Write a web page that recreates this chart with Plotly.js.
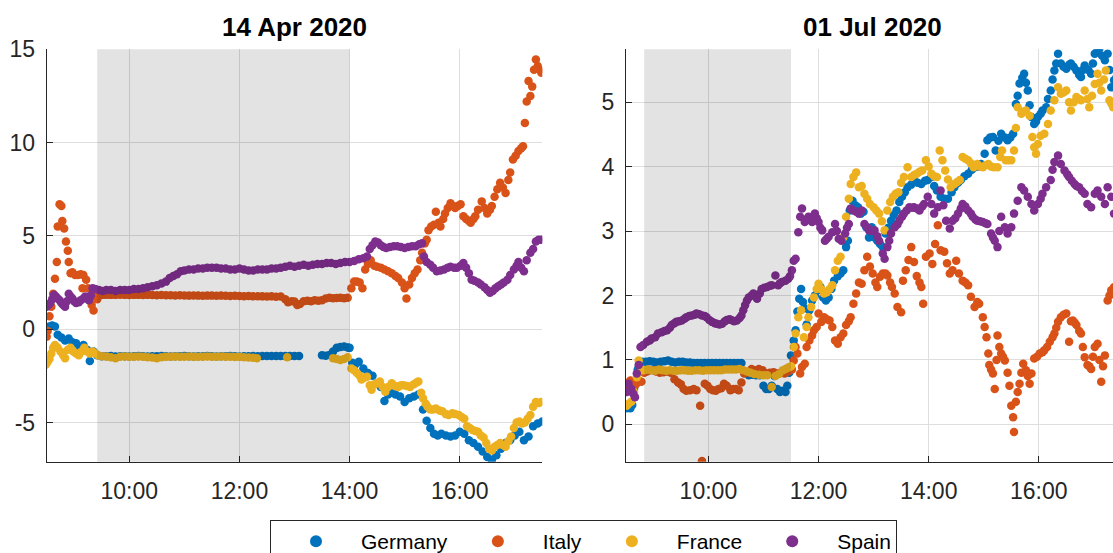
<!DOCTYPE html>
<html><head><meta charset="utf-8">
<script src="https://cdn.plot.ly/plotly-3.0.1.min.js"></script>
<style>html,body{margin:0;padding:0;overflow:hidden;background:#fff}</style>
</head><body>
<div id="chart" style="width:1122px;height:580px"></div>
<script>
// ---------- data ----------
const countries = ["Germany", "Italy", "France", "Spain"];
const colors = ["#0072BD", "#D95319", "#EDB120", "#7E2F8E"];
const days = ["2020-04-14", "2020-07-01"];
const dayTitles = ["14 Apr 2020", "01 Jul 2020"];
const shadeApr = ["09:25", "14:00"];
const shadeJul = ["08:50", "11:30"];
const xRange = ["08:30", "17:30"];
const xTickVals = ["10:00", "12:00", "14:00", "16:00"];
const xTickText = ["10:00", "12:00", "14:00", "16:00"];
const yTicksApr = [-5, 0, 5, 10, 15];
const yTickTextApr = ["-5", "0", "5", "10", "15"];
const yTicksJul = [0, 1, 2, 3, 4, 5];
const yTickTextJul = ["0", "1", "2", "3", "4", "5"];
const yRangeApr = [-7.1, 15];
const yRangeJul = [-0.58, 5.82];

const aprGermany = [["08:30",-0.1],["08:33",0.15],["08:36",0.2],["08:39",0.15],["08:42",-0.3],["08:46",-0.45],["08:50",-0.6],["08:54",-0.5],["08:58",-0.7],["09:02",-0.75],["09:06",-1.0],["09:10",-0.85],["09:14",-1.1],["09:17",-1.7],["09:21",-1.2],["09:25",-1.4],
["09:30",-1.45],["09:35",-1.45],["09:40",-1.44],["09:45",-1.46],["09:50",-1.45],["09:55",-1.45],["10:00",-1.46],["10:05",-1.45],["10:10",-1.44],["10:15",-1.45],["10:20",-1.46],["10:25",-1.45],["10:30",-1.45],["10:35",-1.44],["10:40",-1.45],["10:45",-1.46],["10:50",-1.45],["10:55",-1.45],["11:00",-1.44],["11:05",-1.45],["11:10",-1.46],["11:15",-1.45],["11:20",-1.45],["11:25",-1.44],["11:30",-1.45],["11:35",-1.46],["11:40",-1.45],["11:45",-1.45],["11:50",-1.44],["11:55",-1.45],["12:00",-1.46],["12:05",-1.45],["12:10",-1.45],["12:15",-1.44],["12:20",-1.45],["12:25",-1.44],["12:30",-1.43],["12:35",-1.44],["12:40",-1.43],["12:45",-1.44],["12:50",-1.43],["12:55",-1.44],["13:00",-1.43],["13:05",-1.44],
["13:30",-1.4],["13:34",-1.42],["13:38",-1.38],["13:42",-1.2],["13:46",-1.0],["13:50",-0.95],["13:54",-0.93],["13:58",-0.98],
["14:00",-1.0],["14:03",-1.8],["14:06",-1.9],["14:10",-1.75],["14:15",-2.1],["14:20",-2.35],["14:25",-2.5],["14:30",-2.9],["14:34",-3.1],["14:38",-3.85],["14:42",-3.5],["14:46",-3.4],["14:50",-3.5],["14:55",-3.6],["15:00",-3.9],["15:05",-3.7],["15:10",-3.6],["15:15",-3.5],["15:20",-4.3],["15:24",-4.9],["15:28",-5.3],["15:32",-5.6],["15:36",-5.7],["15:40",-5.6],["15:45",-5.7],["15:50",-5.75],["15:55",-5.7],["16:00",-5.5],["16:05",-5.6],["16:10",-5.95],["16:15",-6.1],["16:20",-6.3],["16:25",-6.55],["16:30",-6.85],["16:35",-7.0],["16:40",-6.75],["16:45",-6.4],["16:50",-6.1],["16:55",-5.95],["17:00",-5.7],["17:05",-5.5],["17:10",-5.95],["17:15",-5.75],["17:20",-5.2],["17:25",-5.05],["17:30",-4.95]];

const aprItaly = [["08:30",-0.4],["08:31",-0.1],["08:33",0.7],["08:35",1.2],["08:37",1.9],["08:39",2.7],["08:41",3.6],["08:42",5.5],["08:44",6.7],["08:46",6.6],["08:47",5.8],["08:49",5.4],["08:51",4.7],["08:53",4.2],["08:54",3.6],["08:56",3.0],["08:58",3.05],["09:01",2.9],["09:04",2.9],["09:07",2.95],["09:09",2.2],["09:10",2.9],["09:13",2.65],["09:15",2.2],["09:19",1.3],["09:21",1.0],["09:23",1.75],["09:25",1.6],
["09:28",1.82],["09:32",1.84],["09:36",1.85],["09:40",1.84],["09:45",1.84],["09:50",1.85],["09:55",1.84],["10:00",1.83],["10:05",1.84],["10:10",1.84],["10:15",1.83],["10:20",1.84],["10:25",1.83],["10:30",1.82],["10:35",1.83],["10:40",1.82],["10:45",1.82],["10:50",1.81],["10:55",1.82],["11:00",1.81],["11:05",1.8],["11:10",1.81],["11:15",1.8],["11:20",1.79],["11:25",1.8],["11:30",1.8],["11:35",1.79],["11:40",1.8],["11:45",1.79],["11:50",1.78],["11:55",1.79],["12:00",1.78],["12:05",1.77],["12:10",1.78],["12:15",1.76],["12:20",1.77],["12:25",1.76],["12:30",1.75],["12:35",1.76],["12:40",1.74],["12:45",1.75],["12:50",1.6],["12:53",1.45],["12:57",1.5],["13:00",1.48],["13:03",1.3],["13:06",1.35],["13:10",1.5],["13:14",1.52],["13:18",1.5],["13:22",1.55],["13:26",1.52],["13:30",1.55],["13:34",1.65],["13:38",1.68],["13:42",1.66],["13:46",1.67],["13:50",1.68],["13:54",1.66],["13:58",1.68],
["14:02",2.2],["14:05",2.55],["14:08",2.55],["14:11",2.5],["14:14",2.2],["14:17",3.2],["14:20",3.5],["14:23",3.7],["14:27",3.4],["14:30",3.35],["14:34",3.3],["14:38",3.2],["14:42",3.1],["14:46",3.0],["14:50",2.85],["14:53",2.75],["14:57",2.5],["15:00",2.2],["15:02",1.65],["15:05",2.4],["15:08",2.75],["15:11",3.0],["15:14",3.2],["15:17",3.7],["15:19",4.1],["15:22",4.6],["15:24",4.8],["15:26",5.3],["15:29",5.5],["15:32",5.6],["15:34",6.3],["15:37",5.7],["15:39",5.5],["15:42",5.9],["15:44",6.2],["15:47",6.5],["15:50",6.75],["15:53",6.6],["15:55",6.5],["15:58",6.6],["16:01",6.7],["16:04",6.05],["16:07",5.9],["16:10",5.8],["16:12",5.7],["16:15",5.9],["16:17",6.05],["16:20",6.4],["16:24",6.85],["16:27",6.5],["16:30",6.2],["16:33",6.4],["16:35",6.6],["16:38",7.1],["16:41",7.5],["16:44",7.85],["16:47",7.6],["16:50",7.3],["16:53",8.0],["16:55",8.4],["16:58",9.1],["17:01",9.3],["17:04",9.55],["17:07",9.7],["17:09",9.8],["17:11",11.05],["17:13",12.2],["17:15",13.3],["17:17",12.5],["17:19",13.0],["17:21",13.9],["17:23",14.45],["17:25",14.1],["17:27",13.9],["17:29",13.75]];

const aprFrance = [["08:29",-1.9],["08:31",-1.75],["08:33",-1.6],["08:35",-1.3],["08:37",-1.0],["08:39",-0.85],["08:42",-1.0],["08:45",-1.2],["08:48",-1.4],["08:50",-1.55],["08:53",-1.1],["08:56",-1.0],["08:59",-1.2],["09:02",-1.3],["09:05",-1.4],["09:08",-1.2],["09:11",-1.0],["09:14",-1.2],["09:17",-1.3],["09:20",-1.2],["09:23",-1.3],["09:26",-1.4],
["09:30",-1.45],["09:35",-1.46],["09:40",-1.5],["09:45",-1.55],["09:50",-1.47],["09:55",-1.46],["10:00",-1.48],["10:05",-1.47],["10:10",-1.46],["10:15",-1.48],["10:20",-1.5],["10:25",-1.52],["10:30",-1.55],["10:35",-1.5],["10:40",-1.48],["10:45",-1.47],["10:50",-1.46],["10:55",-1.48],["11:00",-1.47],["11:05",-1.46],["11:10",-1.47],["11:15",-1.48],["11:20",-1.47],["11:25",-1.46],["11:30",-1.48],["11:35",-1.47],["11:40",-1.46],["11:45",-1.47],["11:50",-1.48],["11:55",-1.49],["12:00",-1.48],["12:05",-1.5],["12:10",-1.52],["12:15",-1.53],["12:19",-1.55],
["12:52",-1.5],
["13:42",-1.55],["13:46",-1.6],["13:50",-1.65],["13:54",-1.6],["13:58",-1.5],["14:02",-2.1],["14:05",-2.2],["14:08",-2.35],["14:11",-2.5],["14:13",-2.7],["14:16",-2.6],["14:19",-2.55],["14:22",-3.0],["14:24",-3.25],["14:27",-2.95],["14:30",-2.9],["14:33",-2.8],["14:36",-3.1],["14:39",-3.35],["14:42",-3.1],["14:46",-2.9],["14:50",-3.05],["14:53",-3.1],["14:56",-3.0],["14:59",-3.0],["15:03",-3.05],["15:06",-3.1],["15:10",-2.95],["15:13",-2.85],["15:15",-2.8],["15:18",-3.4],["15:20",-3.7],["15:23",-4.0],["15:25",-4.15],["15:28",-4.3],["15:31",-4.3],["15:34",-4.25],["15:38",-4.35],["15:41",-4.4],["15:45",-4.55],["15:48",-4.6],["15:52",-4.5],["15:55",-4.55],["15:59",-4.6],["16:02",-4.7],["16:05",-4.8],["16:08",-5.2],["16:11",-5.3],["16:14",-5.4],["16:17",-5.45],["16:20",-5.5],["16:23",-5.7],["16:26",-5.8],["16:29",-6.1],["16:32",-6.4],["16:35",-6.5],["16:38",-6.3],["16:41",-6.2],["16:44",-6.1],["16:47",-6.2],["16:50",-6.3],["16:53",-6.0],["16:56",-5.75],["16:59",-5.3],["17:02",-5.0],["17:05",-4.95],["17:08",-5.05],["17:11",-5.0],["17:14",-4.8],["17:17",-4.6],["17:20",-4.15],["17:23",-3.9],["17:26",-3.95],["17:29",-3.9]];

const aprSpain = [["08:30",1.2],["08:32",1.3],["08:34",1.4],["08:36",1.6],["08:38",1.85],["08:40",1.75],["08:42",1.65],["08:44",1.55],["08:46",1.4],["08:48",1.3],["08:50",1.2],["08:52",1.5],["08:54",1.9],["08:56",1.75],["08:58",1.65],["09:00",1.5],["09:02",1.4],["09:05",1.45],["09:07",1.55],["09:10",1.65],["09:12",1.75],["09:14",1.65],["09:16",1.55],["09:18",1.8],["09:20",2.2],["09:23",2.15],
["09:27",2.1],["09:31",2.05],["09:35",2.1],["09:40",2.1],["09:45",2.05],["09:50",2.1],["09:55",2.1],["10:00",2.1],["10:05",2.15],["10:10",2.15],["10:15",2.2],["10:20",2.25],["10:25",2.3],["10:30",2.35],["10:35",2.45],["10:40",2.55],["10:44",2.75],["10:48",2.85],["10:52",2.95],["10:56",3.1],["11:00",3.15],["11:05",3.2],["11:10",3.2],["11:15",3.25],["11:20",3.25],["11:25",3.3],["11:30",3.3],["11:35",3.3],["11:40",3.25],["11:45",3.25],["11:50",3.2],["11:55",3.2],["12:00",3.25],["12:05",3.2],["12:10",3.15],["12:15",3.15],["12:20",3.2],["12:25",3.2],["12:30",3.2],["12:35",3.25],["12:40",3.25],["12:45",3.3],["12:50",3.35],["12:55",3.4],["13:00",3.35],["13:05",3.4],["13:10",3.45],["13:15",3.4],["13:20",3.45],["13:25",3.5],["13:30",3.5],["13:35",3.55],["13:40",3.55],["13:45",3.5],["13:50",3.55],["13:55",3.6],["14:00",3.6],["14:05",3.65],["14:10",3.75],["14:15",3.8],["14:19",3.9],["14:22",4.3],["14:25",4.5],["14:28",4.7],["14:31",4.65],["14:34",4.5],["14:37",4.4],["14:40",4.35],["14:44",4.4],["14:48",4.45],["14:52",4.45],["14:56",4.4],["15:00",4.35],["15:04",4.4],["15:08",4.45],["15:12",4.45],["15:16",4.55],["15:19",4.6],["15:21",3.9],["15:24",3.6],["15:28",3.45],["15:31",3.3],["15:35",3.1],["15:39",3.15],["15:43",3.2],["15:47",3.3],["15:50",3.35],["15:54",3.3],["15:57",3.3],["16:01",3.4],["16:04",3.55],["16:07",3.3],["16:10",3.0],["16:13",2.65],["16:16",2.6],["16:20",2.5],["16:23",2.4],["16:27",2.25],["16:30",2.1],["16:33",1.95],["16:36",2.05],["16:39",2.2],["16:42",2.3],["16:45",2.4],["16:48",2.5],["16:52",2.65],["16:55",2.9],["16:59",3.2],["17:02",3.4],["17:04",3.6],["17:07",3.3],["17:10",3.1],["17:13",3.7],["17:17",4.1],["17:20",4.3],["17:23",4.7],["17:26",4.8],["17:29",4.8]];

const julGermany = [["08:31",0.25],["08:33",0.28],["08:35",0.25],["08:37",0.3],["08:39",0.55],["08:41",0.63],["08:43",0.85],["08:45",0.95],["08:48",0.97],["08:52",0.97],["08:56",0.98],["09:00",0.97],["09:04",0.96],["09:08",0.97],["09:12",0.98],["09:16",0.99],["09:20",0.97],["09:24",0.96],["09:28",0.97],["09:32",0.97],["09:36",0.96],["09:40",0.96],["09:44",0.95],["09:48",0.95],["09:52",0.95],["09:56",0.95],["10:00",0.95],["10:04",0.95],["10:08",0.95],["10:12",0.95],["10:16",0.95],["10:20",0.95],["10:24",0.95],["10:28",0.95],["10:32",0.95],["10:36",0.95],["10:40",0.8],["10:44",0.76],["10:48",0.77],["10:52",0.76],["10:56",0.76],["11:00",0.6],["11:03",0.55],["11:06",0.55],["11:09",0.6],["11:12",0.75],["11:15",0.55],["11:18",0.5],["11:21",0.52],["11:24",0.5],["11:26",0.6],["11:28",0.8],["11:30",1.07],["11:33",1.3],["11:35",1.46],["11:37",1.75],["11:39",1.95],["11:41",2.1],["11:43",1.9],["11:45",1.8],["11:47",1.55],["11:50",1.77],["11:53",1.92],["11:56",2.0],["11:59",2.08],["12:02",2.13],["12:05",1.97],["12:08",1.92],["12:11",1.97],["12:14",2.1],["12:17",2.23],["12:21",2.3],["12:24",2.34],["12:27",2.39],["12:30",2.75],["12:32",2.85],["12:34",3.32],["12:37",3.47],["12:40",3.4],["12:43",3.37],["12:46",3.27],["12:49",3.3],["12:52",3.06],["12:55",2.9],["12:58",3.06],["13:01",2.9],["13:04",2.85],["13:07",2.8],["13:10",2.75],["13:13",2.96],["13:16",3.05],["13:19",3.16],["13:22",3.25],["13:25",3.32],["13:28",3.45],["13:31",3.53],["13:34",3.6],["13:37",3.68],["13:41",3.72],["13:44",3.79],["13:48",3.75],["13:52",3.73],["13:56",3.78],["13:59",3.79],["14:03",3.84],["14:06",3.7],["14:09",3.63],["14:13",3.53],["14:17",3.5],["14:21",3.5],["14:25",3.6],["14:28",3.68],["14:32",3.75],["14:35",3.79],["14:39",3.85],["14:43",3.89],["14:47",3.95],["14:50",3.99],["14:54",4.0],["14:57",4.04],["15:01",4.2],["15:04",4.41],["15:07",4.45],["15:10",4.46],["15:13",4.25],["15:16",4.4],["15:19",4.51],["15:23",4.45],["15:26",4.41],["15:29",4.45],["15:32",4.51],["15:35",4.97],["15:37",5.1],["15:39",5.29],["15:42",5.38],["15:44",5.44],["15:46",5.3],["15:48",5.18],["15:50",4.95],["15:52",4.77],["15:55",4.66],["15:57",4.7],["15:59",4.77],["16:02",4.82],["16:04",4.87],["16:08",4.92],["16:10",5.05],["16:13",5.18],["16:15",5.35],["16:17",5.49],["16:19",5.6],["16:21",5.75],["16:24",5.6],["16:27",5.55],["16:30",5.52],["16:33",5.58],["16:35",5.6],["16:38",5.55],["16:41",5.49],["16:44",5.42],["16:46",5.39],["16:48",5.5],["16:50",5.57],["16:54",5.5],["16:57",5.44],["16:59",5.6],["17:01",5.75],["17:04",5.8],["17:06",5.83],["17:09",5.72],["17:12",5.65],["17:15",5.75],["17:17",5.5],["17:19",5.23],["17:22",5.34],["17:25",5.4],["17:28",5.5]];

const julItaly = [["08:31",0.58],["08:33",0.65],["08:35",0.68],["08:38",0.58],["08:41",0.62],["08:44",0.68],["08:47",0.66],["08:50",0.8],["08:53",0.82],["08:56",0.84],["09:00",0.84],["09:03",0.82],["09:07",0.8],["09:11",0.81],["09:15",0.82],["09:19",0.8],["09:23",0.7],["09:27",0.65],["09:30",0.62],["09:33",0.55],["09:36",0.52],["09:40",0.53],["09:44",0.55],["09:47",0.53],["09:51",0.29],["09:53",-0.57],["09:56",0.63],["09:59",0.6],["10:02",0.55],["10:05",0.53],["10:08",0.52],["10:11",0.55],["10:14",0.56],["10:17",0.63],["10:20",0.6],["10:24",0.53],["10:27",0.55],["10:30",0.55],["10:33",0.53],["10:36",0.65],["10:39",0.79],["10:43",0.81],["10:47",0.86],["10:51",0.84],["10:55",0.86],["10:59",0.84],["11:03",0.79],["11:07",0.8],["11:11",0.81],["11:15",0.79],["11:19",0.8],["11:23",0.79],["11:27",0.82],["11:31",0.85],["11:33",0.99],["11:35",1.2],["11:37",1.1],["11:40",0.79],["11:42",0.89],["11:45",0.94],["11:47",1.2],["11:50",1.3],["11:53",1.38],["11:55",1.46],["11:58",1.51],["12:00",1.72],["12:03",1.59],["12:06",1.66],["12:09",1.63],["12:12",1.61],["12:15",1.51],["12:18",1.3],["12:21",1.25],["12:24",1.35],["12:27",1.41],["12:30",1.54],["12:33",1.6],["12:35",1.66],["12:38",1.87],["12:41",2.03],["12:44",2.2],["12:47",2.18],["12:50",2.39],["12:53",2.6],["12:56",2.45],["12:59",2.34],["13:02",2.2],["13:04",2.13],["13:07",2.29],["13:10",2.34],["13:13",2.34],["13:15",2.31],["13:18",2.2],["13:20",2.13],["13:23",2.03],["13:26",1.82],["13:30",1.74],["13:32",2.23],["13:35",2.39],["13:38",2.55],["13:41",2.75],["13:44",2.52],["13:47",2.3],["13:50",2.2],["13:52",2.13],["13:54",1.87],["13:57",2.6],["14:01",2.65],["14:04",2.49],["14:07",2.8],["14:10",3.09],["14:13",2.7],["14:17",2.68],["14:20",2.5],["14:23",2.34],["14:26",2.39],["14:30",2.54],["14:33",2.34],["14:37",2.23],["14:40",2.2],["14:43",2.16],["14:46",1.98],["14:50",1.82],["14:53",1.9],["14:55",1.87],["14:59",1.66],["15:01",1.51],["15:03",1.35],["15:05",1.1],["15:06",0.92],["15:08",0.85],["15:10",0.79],["15:12",0.55],["15:14",1.0],["15:15",1.38],["15:17",1.2],["15:19",1.1],["15:21",1.05],["15:23",0.99],["15:26",0.8],["15:28",0.6],["15:30",0.29],["15:32",0.11],["15:33",-0.12],["15:35",0.35],["15:37",0.5],["15:39",0.63],["15:41",0.8],["15:43",0.94],["15:46",0.84],["15:48",0.75],["15:50",0.63],["15:52",0.79],["15:55",1.02],["15:58",1.05],["16:01",1.1],["16:04",1.12],["16:06",1.15],["16:09",1.2],["16:12",1.28],["16:15",1.35],["16:17",1.41],["16:19",1.5],["16:21",1.59],["16:24",1.66],["16:27",1.7],["16:30",1.72],["16:33",1.28],["16:35",1.6],["16:37",1.61],["16:39",1.58],["16:41",1.54],["16:44",1.45],["16:46",1.41],["16:48",1.2],["16:50",1.04],["16:53",0.92],["16:55",0.9],["16:57",0.86],["16:59",1.05],["17:01",1.2],["17:04",1.25],["17:06",1.0],["17:08",0.66],["17:10",0.9],["17:12",1.07],["17:15",1.92],["17:17",2.0],["17:19",2.08],["17:22",2.13],["17:25",2.15]];

const julFrance = [["08:31",0.29],["08:33",0.32],["08:36",0.35],["08:39",0.5],["08:42",0.73],["08:44",0.99],["08:47",0.84],["08:50",0.84],["08:54",0.85],["08:58",0.84],["09:02",0.83],["09:06",0.85],["09:10",0.84],["09:14",0.83],["09:18",0.84],["09:22",0.83],["09:26",0.83],["09:30",0.84],["09:34",0.84],["09:38",0.83],["09:42",0.83],["09:46",0.84],["09:50",0.84],["09:54",0.83],["09:58",0.84],["10:02",0.84],["10:06",0.84],["10:10",0.84],["10:14",0.84],["10:18",0.85],["10:22",0.85],["10:26",0.85],["10:30",0.85],["10:34",0.86],["10:38",0.84],["10:42",0.82],["10:46",0.8],["10:50",0.78],["10:55",0.77],["11:00",0.76],["11:04",0.76],["11:09",0.58],["11:13",0.75],["11:17",0.78],["11:21",0.84],["11:24",0.86],["11:27",0.88],["11:30",0.9],["11:33",1.2],["11:35",1.41],["11:38",1.66],["11:41",1.77],["11:44",1.35],["11:47",1.51],["11:49",1.66],["11:52",1.82],["11:55",1.97],["11:58",2.1],["12:00",2.18],["12:03",2.1],["12:06",2.03],["12:09",2.05],["12:12",2.1],["12:15",2.16],["12:18",2.39],["12:21",2.54],["12:24",2.6],["12:27",2.9],["12:30",3.22],["12:33",3.5],["12:35",3.73],["12:38",3.84],["12:41",3.91],["12:44",3.68],["12:47",3.7],["12:50",3.58],["12:53",3.5],["12:56",3.42],["13:00",3.37],["13:03",3.32],["13:06",3.27],["13:09",3.15],["13:12",3.01],["13:15",3.32],["13:18",3.45],["13:21",3.53],["13:24",3.58],["13:27",3.6],["13:30",3.75],["13:33",3.84],["13:37",3.99],["13:41",3.84],["13:44",3.87],["13:47",3.89],["13:50",3.92],["13:53",3.94],["13:57",4.1],["14:00",4.0],["14:03",3.89],["14:06",3.85],["14:09",3.84],["14:12",4.25],["14:15",4.1],["14:18",3.94],["14:21",3.8],["14:24",3.68],["14:28",3.73],["14:31",3.76],["14:34",3.79],["14:37",4.15],["14:40",4.12],["14:43",4.1],["14:46",4.05],["14:49",3.99],["14:53",4.04],["14:56",4.0],["14:59",3.99],["15:02",4.02],["15:05",4.04],["15:08",4.0],["15:11",3.99],["15:15",3.99],["15:18",4.15],["15:20",4.25],["15:24",4.1],["15:27",4.1],["15:30",4.1],["15:33",4.25],["15:35",4.6],["15:37",4.92],["15:41",4.82],["15:43",4.85],["15:46",4.87],["15:50",4.79],["15:53",4.46],["15:55",4.3],["15:57",4.2],["15:59",4.35],["16:02",4.48],["16:06",4.51],["16:10",4.66],["16:13",4.87],["16:17",5.03],["16:21",5.23],["16:24",5.13],["16:27",5.15],["16:30",5.18],["16:33",5.0],["16:35",4.87],["16:38",5.0],["16:41",5.08],["16:44",5.05],["16:46",5.03],["16:50",5.18],["16:53",5.05],["16:55",4.92],["16:58",5.1],["17:01",5.28],["17:04",5.44],["17:06",5.3],["17:08",5.18],["17:11",5.35],["17:13",5.49],["17:17",5.03],["17:19",4.98],["17:21",4.92],["17:25",5.0]];

const julSpain = [["08:31",0.5],["08:33",0.63],["08:36",0.55],["08:38",0.48],["08:40",0.42],["08:42",0.79],["08:44",0.92],["08:46",1.2],["08:49",1.23],["08:53",1.28],["08:56",1.3],["08:58",1.33],["09:02",1.35],["09:05",1.41],["09:09",1.43],["09:12",1.45],["09:15",1.46],["09:18",1.5],["09:20",1.54],["09:23",1.57],["09:25",1.59],["09:28",1.6],["09:31",1.61],["09:34",1.64],["09:36",1.66],["09:39",1.68],["09:42",1.69],["09:45",1.7],["09:47",1.72],["09:50",1.71],["09:53",1.69],["09:56",1.68],["09:58",1.66],["10:01",1.62],["10:04",1.59],["10:07",1.57],["10:09",1.56],["10:12",1.55],["10:15",1.56],["10:18",1.6],["10:20",1.62],["10:23",1.63],["10:25",1.62],["10:28",1.6],["10:31",1.61],["10:34",1.65],["10:36",1.69],["10:38",1.77],["10:40",1.85],["10:42",1.92],["10:44",1.97],["10:47",2.0],["10:49",2.03],["10:51",1.99],["10:53",1.95],["10:56",2.03],["10:58",2.1],["11:01",2.12],["11:04",2.13],["11:07",2.15],["11:09",2.16],["11:13",2.31],["11:16",2.16],["11:18",2.19],["11:20",2.21],["11:24",2.23],["11:27",2.26],["11:29",2.3],["11:31",2.39],["11:33",2.54],["11:35",2.57],["11:38",2.98],["11:40",3.22],["11:42",3.35],["11:45",3.14],["11:47",3.18],["11:49",3.22],["11:51",3.18],["11:53",3.14],["11:56",3.27],["11:58",3.2],["12:00",3.14],["12:02",3.05],["12:04",3.01],["12:07",2.85],["12:09",2.88],["12:11",2.91],["12:15",2.98],["12:18",3.11],["12:20",3.0],["12:22",2.88],["12:25",2.85],["12:29",2.96],["12:31",3.05],["12:33",3.11],["12:35",3.35],["12:38",3.32],["12:41",3.3],["12:44",3.27],["12:47",3.32],["12:50",3.11],["12:53",3.06],["12:55",3.01],["12:58",3.0],["13:01",3.01],["13:04",2.92],["13:06",2.85],["13:10",2.65],["13:12",2.57],["13:15",2.75],["13:17",2.85],["13:19",2.96],["13:23",3.06],["13:26",3.1],["13:28",3.16],["13:31",3.22],["13:33",3.27],["13:36",3.32],["13:39",3.37],["13:42",3.36],["13:44",3.37],["13:47",3.35],["13:50",3.32],["13:53",3.38],["13:55",3.42],["13:59",3.53],["14:03",3.42],["14:06",3.27],["14:10",3.37],["14:13",3.63],["14:16",3.4],["14:19",3.16],["14:23",3.04],["14:26",3.16],["14:29",3.2],["14:32",3.27],["14:35",3.35],["14:37",3.42],["14:40",3.38],["14:43",3.32],["14:46",3.27],["14:48",3.22],["14:51",3.18],["14:53",3.16],["14:56",3.15],["14:59",3.14],["15:02",3.12],["15:04",3.11],["15:08",2.96],["15:10",2.9],["15:12",2.85],["15:15",2.75],["15:17",3.0],["15:19",3.22],["15:23",3.06],["15:26",2.96],["15:30",3.06],["15:33",3.27],["15:37",3.47],["15:41",3.68],["15:44",3.63],["15:48",3.53],["15:52",3.42],["15:55",3.32],["15:59",3.42],["16:02",3.5],["16:04",3.58],["16:08",3.68],["16:13",3.79],["16:15",3.95],["16:17",4.07],["16:21",4.17],["16:24",4.04],["16:28",3.94],["16:31",3.88],["16:33",3.84],["16:36",3.78],["16:39",3.73],["16:41",3.7],["16:44",3.68],["16:47",3.62],["16:50",3.58],["16:53",3.42],["16:57",3.37],["17:01",3.58],["17:04",3.63],["17:08",3.53],["17:12",3.42],["17:15",3.68],["17:19",3.53],["17:22",3.27],["17:26",3.35]];

// ---------- build ----------
const W = 1122, H = 580;
const seriesByDay = [[aprGermany, aprItaly, aprFrance, aprSpain], [julGermany, julItaly, julFrance, julSpain]];
const traces = [];
seriesByDay.forEach((set, d) => {
  set.forEach((pts, i) => {
    traces.push({
      type: 'scatter', mode: 'markers',
      x: pts.map(p => days[d] + ' ' + p[0]),
      y: pts.map(p => p[1]),
      xaxis: d === 0 ? 'x' : 'x2', yaxis: d === 0 ? 'y' : 'y2',
      name: countries[i], legendgroup: countries[i], showlegend: d === 0,
      marker: {color: colors[i], size: 8.5, line: {width: 0}},
      hoverinfo: 'skip'
    });
  });
});

const tickFont = {family: 'Liberation Sans, Arial, sans-serif', size: 23, color: '#262626'};
function xa(d, dom) {
  return {
    domain: dom, type: 'date', anchor: d === 0 ? 'y' : 'y2',
    range: xRange.map(t => days[d] + ' ' + t),
    tickvals: xTickVals.map(t => days[d] + ' ' + t), ticktext: xTickText,
    ticks: 'inside', ticklen: 6, tickcolor: '#262626', tickwidth: 1,
    showline: true, linecolor: '#262626', linewidth: 1, mirror: false,
    showgrid: true, gridcolor: '#DEDEDE', gridwidth: 1, zeroline: false,
    tickfont: tickFont, ticklabelstandoff: 9, automargin: false, fixedrange: true
  };
}
function ya(d, dom, range, vals, text) {
  return {
    domain: dom, anchor: d === 0 ? 'x' : 'x2', range: range,
    tickvals: vals, ticktext: text,
    ticks: 'inside', ticklen: 6, tickcolor: '#262626', tickwidth: 1,
    showline: true, linecolor: '#262626', linewidth: 1, mirror: false,
    showgrid: true, gridcolor: '#DEDEDE', gridwidth: 1, zeroline: false,
    tickfont: tickFont, ticklabelstandoff: 6, automargin: false, fixedrange: true
  };
}
const yDom = [1 - 461.7 / H, 1 - 49.3 / H];
const xDom1 = [46.7 / W, 542.3 / W];
const xDom2 = [625.8 / W, 1121.4 / W];

const layout = {
  width: W, height: H,
  margin: {l: 0, r: 0, t: 0, b: 0},
  paper_bgcolor: '#ffffff', plot_bgcolor: 'rgba(0,0,0,0)',
  showlegend: true,
  xaxis: xa(0, xDom1), yaxis: ya(0, yDom, yRangeApr, yTicksApr, yTickTextApr),
  xaxis2: xa(1, xDom2), yaxis2: ya(1, yDom, yRangeJul, yTicksJul, yTickTextJul),
  shapes: [
    {type: 'rect', xref: 'x', yref: 'y domain', x0: days[0] + ' ' + shadeApr[0], x1: days[0] + ' ' + shadeApr[1], y0: 0, y1: 1,
     fillcolor: 'rgba(0,0,0,0.11)', line: {width: 0}, layer: 'above'},
    {type: 'rect', xref: 'x2', yref: 'y2 domain', x0: days[1] + ' ' + shadeJul[0], x1: days[1] + ' ' + shadeJul[1], y0: 0, y1: 1,
     fillcolor: 'rgba(0,0,0,0.11)', line: {width: 0}, layer: 'above'}
  ],
  annotations: [0, 1].map(d => ({
    text: '<b>' + dayTitles[d] + '</b>', xref: 'paper', yref: 'paper',
    x: d === 0 ? (xDom1[0] + xDom1[1]) / 2 : (803 + 942) / 2 / W,
    y: 1 - 27 / H, xanchor: 'center', yanchor: 'middle', showarrow: false,
    font: {family: 'Liberation Sans, Arial, sans-serif', size: 26, color: '#000000'}
  })),
  legend: {
    orientation: 'h', x: 583.5 / W, xanchor: 'center', y: 1 - 520 / H, yanchor: 'top',
    bordercolor: '#262626', borderwidth: 1, bgcolor: '#ffffff',
    font: {family: 'Liberation Sans, Arial, sans-serif', size: 21, color: '#000000'},
    itemsizing: 'constant', traceorder: 'normal', itemwidth: 80
  }
};
Plotly.newPlot('chart', traces, layout, {staticPlot: true, displayModeBar: false});
</script>
</body></html>
